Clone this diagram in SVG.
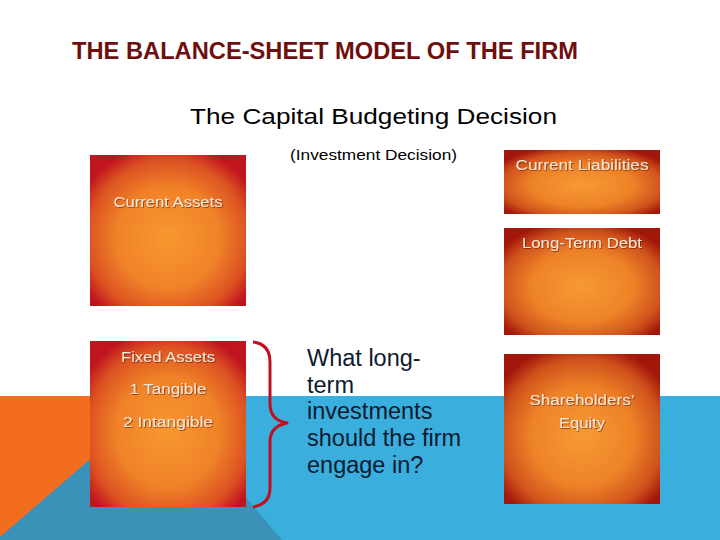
<svg xmlns="http://www.w3.org/2000/svg" width="720" height="540" viewBox="0 0 720 540">
  <defs>
    <radialGradient id="gL" cx="0.5" cy="0.55" r="0.66">
      <stop offset="0" stop-color="#f8982f"/>
      <stop offset="0.5" stop-color="#f08228"/>
      <stop offset="0.78" stop-color="#dc5222"/>
      <stop offset="0.95" stop-color="#c0141e"/>
    </radialGradient>
    <radialGradient id="gR" cx="0.5" cy="0.55" r="0.66">
      <stop offset="0" stop-color="#f79a33"/>
      <stop offset="0.5" stop-color="#ed8227"/>
      <stop offset="0.78" stop-color="#cf521c"/>
      <stop offset="0.95" stop-color="#a3160b"/>
    </radialGradient>
    <filter id="ts" x="-10%" y="-30%" width="120%" height="160%">
      <feDropShadow dx="0.8" dy="0.8" stdDeviation="0.6" flood-color="#5a1005" flood-opacity="0.7"/>
    </filter>
  </defs>
  <style>
    .title{font-family:"Liberation Sans",Arial,sans-serif;font-size:24px;font-weight:bold;fill:#6e0f0f;}
    .sub{font-family:"Liberation Sans",Arial,sans-serif;fill:#000;}
    .lbl{font-family:"Liberation Sans",Arial,sans-serif;font-size:14px;fill:#fbe6d6;text-anchor:middle;filter:url(#ts);}
    .q{font-family:"Liberation Sans",Arial,sans-serif;font-size:23.5px;fill:#0e1a30;}
    .boxL{fill:url(#gL);}
    .boxR{fill:url(#gR);}
  </style>

  <!-- background -->
  <rect width="720" height="540" fill="#ffffff"/>
  <rect x="0" y="396" width="720" height="144" fill="#3aaedc"/>
  <rect x="0" y="396" width="162" height="144" fill="#f26d1d"/>
  <polygon points="0,537 161,398 282,540 0,540" fill="#3a92b8"/>

  <!-- titles -->
  <text class="title" x="72" y="59" textLength="506" lengthAdjust="spacingAndGlyphs">THE BALANCE-SHEET MODEL OF THE FIRM</text>
  <text class="sub" x="190" y="124" font-size="22" textLength="367" lengthAdjust="spacingAndGlyphs">The Capital Budgeting Decision</text>
  <text class="sub" x="290" y="160" font-size="14" textLength="167" lengthAdjust="spacingAndGlyphs">(Investment Decision)</text>

  <g id="current-assets">
    <rect class="boxL" x="90" y="155" width="156" height="151"/>
    <text class="lbl" x="168" y="207" textLength="109" lengthAdjust="spacingAndGlyphs">Current Assets</text>
  </g>

  <g id="fixed-assets">
    <rect class="boxL" x="90" y="341" width="156" height="166"/>
    <text class="lbl" x="168" y="362" textLength="94" lengthAdjust="spacingAndGlyphs">Fixed Assets</text>
    <text class="lbl" x="168" y="394" textLength="77" lengthAdjust="spacingAndGlyphs">1 Tangible</text>
    <text class="lbl" x="168" y="427" textLength="90" lengthAdjust="spacingAndGlyphs">2 Intangible</text>
  </g>

  <g id="current-liabilities">
    <rect class="boxR" x="504" y="150" width="156" height="64"/>
    <text class="lbl" x="582" y="170" textLength="133" lengthAdjust="spacingAndGlyphs">Current Liabilities</text>
  </g>

  <g id="long-term-debt">
    <rect class="boxR" x="504" y="228" width="156" height="107"/>
    <text class="lbl" x="582" y="248" textLength="120" lengthAdjust="spacingAndGlyphs">Long-Term Debt</text>
  </g>

  <g id="shareholders-equity">
    <rect class="boxR" x="504" y="354" width="156" height="150"/>
    <text class="lbl" x="582" y="405" textLength="105" lengthAdjust="spacingAndGlyphs">Shareholders’</text>
    <text class="lbl" x="582" y="428" textLength="46" lengthAdjust="spacingAndGlyphs">Equity</text>
  </g>

  <g id="connectors">
    <path d="M253,342 Q270,344 270,362 L270,404 Q270,420 287,423 Q270,426 270,442 L270,488 Q270,504 253,507" fill="none" stroke="#c0101e" stroke-width="3" stroke-linejoin="round"/>
  </g>

  <g id="question">
    <text class="q" x="307" y="366">What long-</text>
    <text class="q" x="307" y="393">term</text>
    <text class="q" x="307" y="419">investments</text>
    <text class="q" x="307" y="446">should the firm</text>
    <text class="q" x="307" y="473">engage in?</text>
  </g>
</svg>
